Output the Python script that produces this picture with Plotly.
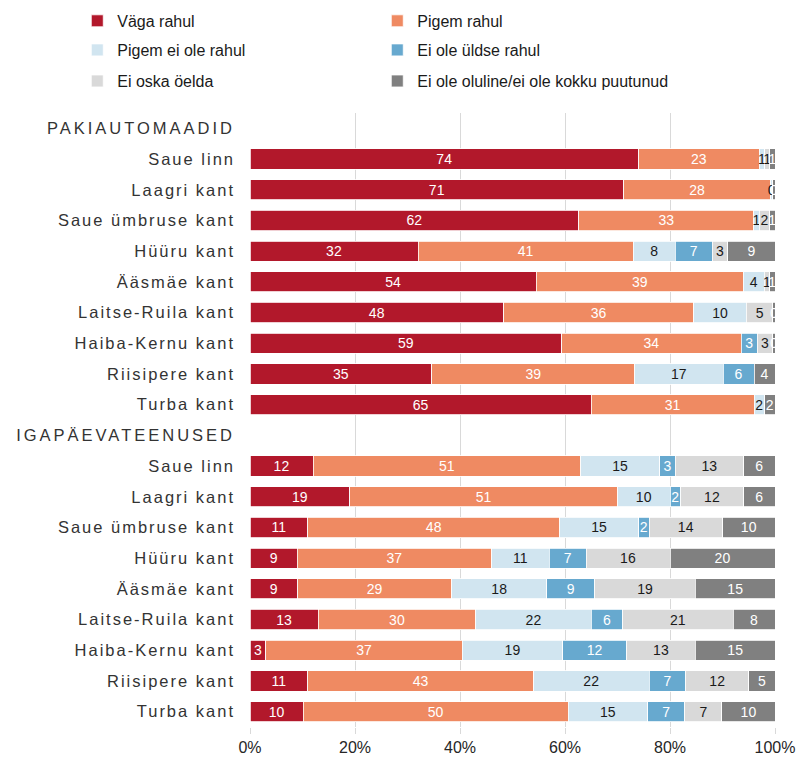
import plotly.graph_objects as go

# ---- data ----
series_names = ["Väga rahul", "Pigem rahul", "Pigem ei ole rahul",
                "Ei ole üldse rahul", "Ei oska öelda", "Ei ole oluline/ei ole kokku puutunud"]
colors = ["#B2182B", "#EF8A62", "#D1E5F0", "#67A9CF", "#D9D9D9", "#808080"]
text_colors = ["white", "white", "#1a1a1a", "white", "#1a1a1a", "white"]

group1 = "PAKIAUTOMAADID"
group2 = "IGAPÄEVATEENUSED"
areas = ["Saue linn", "Laagri kant", "Saue ümbruse kant", "Hüüru kant", "Ääsmäe kant",
         "Laitse-Ruila kant", "Haiba-Kernu kant", "Riisipere kant", "Turba kant"]

# PAKIAUTOMAADID, one list per series (order of areas)
pak_vaga = [74, 71, 62, 32, 54, 48, 59, 35, 65]
pak_pigem = [23, 28, 33, 41, 39, 36, 34, 39, 31]
pak_pigem_ei = [1, 0.4, 1, 8, 4, 10, 0, 17, 2]
pak_uldse_ei = [0, 0, 0, 7, 0, 0, 3, 6, 0]
pak_ei_oska = [1, 0, 2, 3, 1, 5, 3, 0, 0]
pak_oluline = [1, 0.4, 1, 9, 1, 0.4, 0.4, 4, 2]

# IGAPÄEVATEENUSED
iga_vaga = [12, 19, 11, 9, 9, 13, 3, 11, 10]
iga_pigem = [51, 51, 48, 37, 29, 30, 37, 43, 50]
iga_pigem_ei = [15, 10, 15, 11, 18, 22, 19, 22, 15]
iga_uldse_ei = [3, 2, 2, 7, 9, 6, 12, 7, 7]
iga_ei_oska = [13, 12, 14, 16, 19, 21, 13, 12, 7]
iga_oluline = [6, 6, 10, 20, 15, 8, 15, 5, 10]

x_ticks = [0, 20, 40, 60, 80, 100]
x_ticktext = ["0%", "20%", "40%", "60%", "80%", "100%"]

pak_series = [pak_vaga, pak_pigem, pak_pigem_ei, pak_uldse_ei, pak_ei_oska, pak_oluline]
iga_series = [iga_vaga, iga_pigem, iga_pigem_ei, iga_uldse_ei, iga_ei_oska, iga_oluline]

# row layout: header, areas, header, areas
labels = [group1] + areas + [group2] + areas
headers = {group1, group2}
pak_rows = list(range(1, 1 + len(areas)))
iga_rows = list(range(2 + len(areas), 2 + 2 * len(areas)))

fig = go.Figure()
legend_ids = ["legend", "legend", "legend2", "legend2", "legend3", "legend3"]
for i, name in enumerate(series_names):
    vals = pak_series[i] + iga_series[i]
    rows = pak_rows + iga_rows
    fig.add_trace(go.Bar(
        x=vals, y=rows, orientation="h", name=name,
        marker=dict(color=colors[i], line=dict(color="white", width=0.8)),
        text=[f"{v:.0f}" for v in vals],
        texttemplate="%{text}",
        textposition="inside", insidetextanchor="middle",
        textangle=0, constraintext="none",
        insidetextfont=dict(color=text_colors[i], size=14, family="Liberation Sans, Arial, sans-serif"),
        legend=legend_ids[i],
        hoverinfo="name+x",
    ))

ticktext = []
for t in labels:
    sp = 3.0 if t in headers else 2
    ticktext.append(f'<span style="letter-spacing:{sp}px">{t}</span>')

legend_common = dict(orientation="h", xanchor="left", yanchor="middle", x=-0.329,
                     entrywidth=255, entrywidthmode="pixels", bgcolor="rgba(0,0,0,0)",
                     font=dict(size=16, color="#1a1a1a", family="Liberation Sans, Arial, sans-serif"),
                     itemclick=False, traceorder="normal")

fig.update_layout(
    width=801, height=758,
    margin=dict(l=250, r=26, t=113, b=31, autoexpand=False),
    barmode="stack", barnorm="percent", bargap=0.34,
    plot_bgcolor="white", paper_bgcolor="white",
    font=dict(family="Liberation Sans, Arial, sans-serif", color="#333333"),
    xaxis=dict(range=[0, 100], tickmode="array", tickvals=x_ticks, ticktext=x_ticktext,
               showgrid=True, gridcolor="#D9D9D9", gridwidth=1, zeroline=False,
               ticks="outside", ticklen=6, tickcolor="#D9D9D9",
               tickfont=dict(size=16, color="#262626"), showline=False, automargin=False),
    yaxis=dict(tickvals=list(range(len(labels))), ticktext=ticktext,
               range=[len(labels) - 0.5, -0.5], showgrid=False, zeroline=False,
               tickfont=dict(size=16.5, color="#333333"), ticks="", ticklabelstandoff=14,
               automargin=False),
    legend=dict(legend_common, y=1.150),
    legend2=dict(legend_common, y=1.1026),
    legend3=dict(legend_common, y=1.052),
    showlegend=True,
)

fig.write_html("out.html", config={"displayModeBar": False},
               post_script="document.body.style.margin='0';document.body.style.overflow='hidden';")
